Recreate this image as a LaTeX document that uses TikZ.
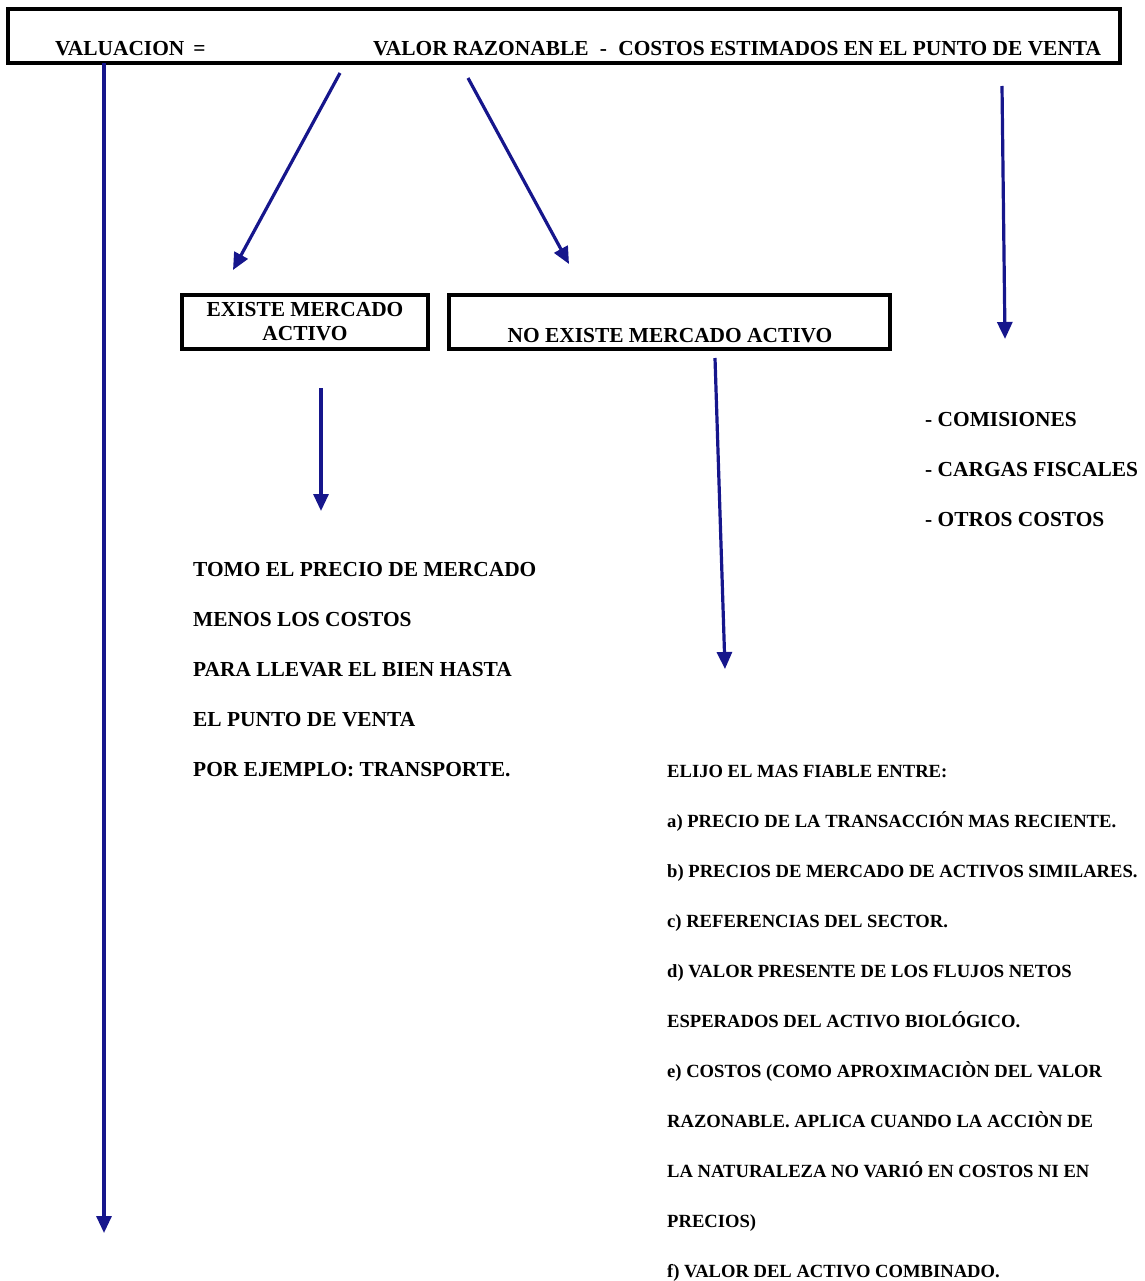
\documentclass[tikz,border=0pt]{standalone}
\usepackage{fontspec}
\setmainfont{Liberation Serif}
\usetikzlibrary{arrows.meta}
\definecolor{flecha}{RGB}{22,22,140}
\tikzset{
  caja/.style={draw, line width=3.2pt},
  txt/.style={anchor=base west, inner sep=0pt, font=\fontsize{21.4}{24}\selectfont\bfseries},
  txtchico/.style={anchor=base west, inner sep=0pt, font=\fontsize{18.6}{22}\selectfont\bfseries},
  flechaazul/.style={draw=flecha, line width=3.2pt, -{Triangle[length=17pt,width=15pt]}, color=flecha}
}
\begin{document}
\begin{tikzpicture}[x=1pt,y=-1pt]
      \useasboundingbox (0,0) rectangle (1144,1281);
      % formula
      \node[caja, minimum width=1112pt, minimum height=54pt] (formula) at (564,36) {};
      \node[txt] (valuacion) at (55,56) {VALUACION \,=};
      \node[txt] (valor) at (373,56) {VALOR RAZONABLE \;-\; COSTOS ESTIMADOS EN EL PUNTO DE VENTA};
      % cajas
      \node[caja, minimum width=246pt, minimum height=54pt, align=center, inner sep=0pt,
            font=\fontsize{21.4}{24}\selectfont\bfseries] (existe) at (305,322) {EXISTE MERCADO\\ACTIVO};
      \node[caja, minimum width=441pt, minimum height=54pt] (noexiste) at (669.5,322) {};
      \node[txt, anchor=base] (noexistetxt) at (670,342) {NO EXISTE MERCADO ACTIVO};
      % costos
      \node[txt] (c1) at (925,426) {- COMISIONES};
      \node[txt] (c2) at (925,476) {- CARGAS FISCALES};
      \node[txt] (c3) at (925,526) {- OTROS COSTOS};
      % existe mercado
      \node[txt] (e1) at (193,576) {TOMO EL PRECIO DE MERCADO};
      \node[txt] (e2) at (193,626) {MENOS LOS COSTOS};
      \node[txt] (e3) at (193,676) {PARA LLEVAR EL BIEN HASTA};
      \node[txt] (e4) at (193,726) {EL PUNTO DE VENTA};
      \node[txt] (e5) at (193,776) {POR EJEMPLO: TRANSPORTE.};
      % no existe mercado
      \node[txtchico] (n1) at (667,777) {ELIJO EL MAS FIABLE ENTRE:};
      \node[txtchico] (n2) at (667,827) {a) PRECIO DE LA TRANSACCIÓN MAS RECIENTE.};
      \node[txtchico] (n3) at (667,877) {b) PRECIOS DE MERCADO DE ACTIVOS SIMILARES.};
      \node[txtchico] (n4) at (667,927) {c) REFERENCIAS DEL SECTOR.};
      \node[txtchico] (n5) at (667,977) {d) VALOR PRESENTE DE LOS FLUJOS NETOS};
      \node[txtchico] (n6) at (667,1027) {ESPERADOS DEL ACTIVO BIOLÓGICO.};
      \node[txtchico] (n7) at (667,1077) {e) COSTOS (COMO APROXIMACIÒN DEL VALOR};
      \node[txtchico] (n8) at (667,1127) {RAZONABLE. APLICA CUANDO LA ACCIÒN DE};
      \node[txtchico] (n9) at (667,1177) {LA NATURALEZA NO VARIÓ EN COSTOS NI EN};
      \node[txtchico] (n10) at (667,1227) {PRECIOS)};
      \node[txtchico] (n11) at (667,1277) {f) VALOR DEL ACTIVO COMBINADO.};
      % extremos de flechas
      \coordinate (izqA) at (104,63);
      \coordinate (izqB) at (104,1233);
      \coordinate (razA) at (340,73);
      \coordinate (razB) at (233,270);
      \coordinate (razC) at (468,78);
      \coordinate (razD) at (569,264);
      \coordinate (cosA) at (1002,86);
      \coordinate (cosB) at (1005,339);
      \coordinate (exA) at (321,388);
      \coordinate (exB) at (321,511);
      \coordinate (noA) at (715,358);
      \coordinate (noB) at (725,669);
      \begin{scope}[flechaazul]
        \draw (izqA) to (izqB);
        \draw (razA) to (razB);
        \draw (razC) to (razD);
        \draw (cosA) to (cosB);
        \draw (exA) to (exB);
        \draw (noA) to (noB);
      \end{scope}
    \end{tikzpicture}
\end{document}
